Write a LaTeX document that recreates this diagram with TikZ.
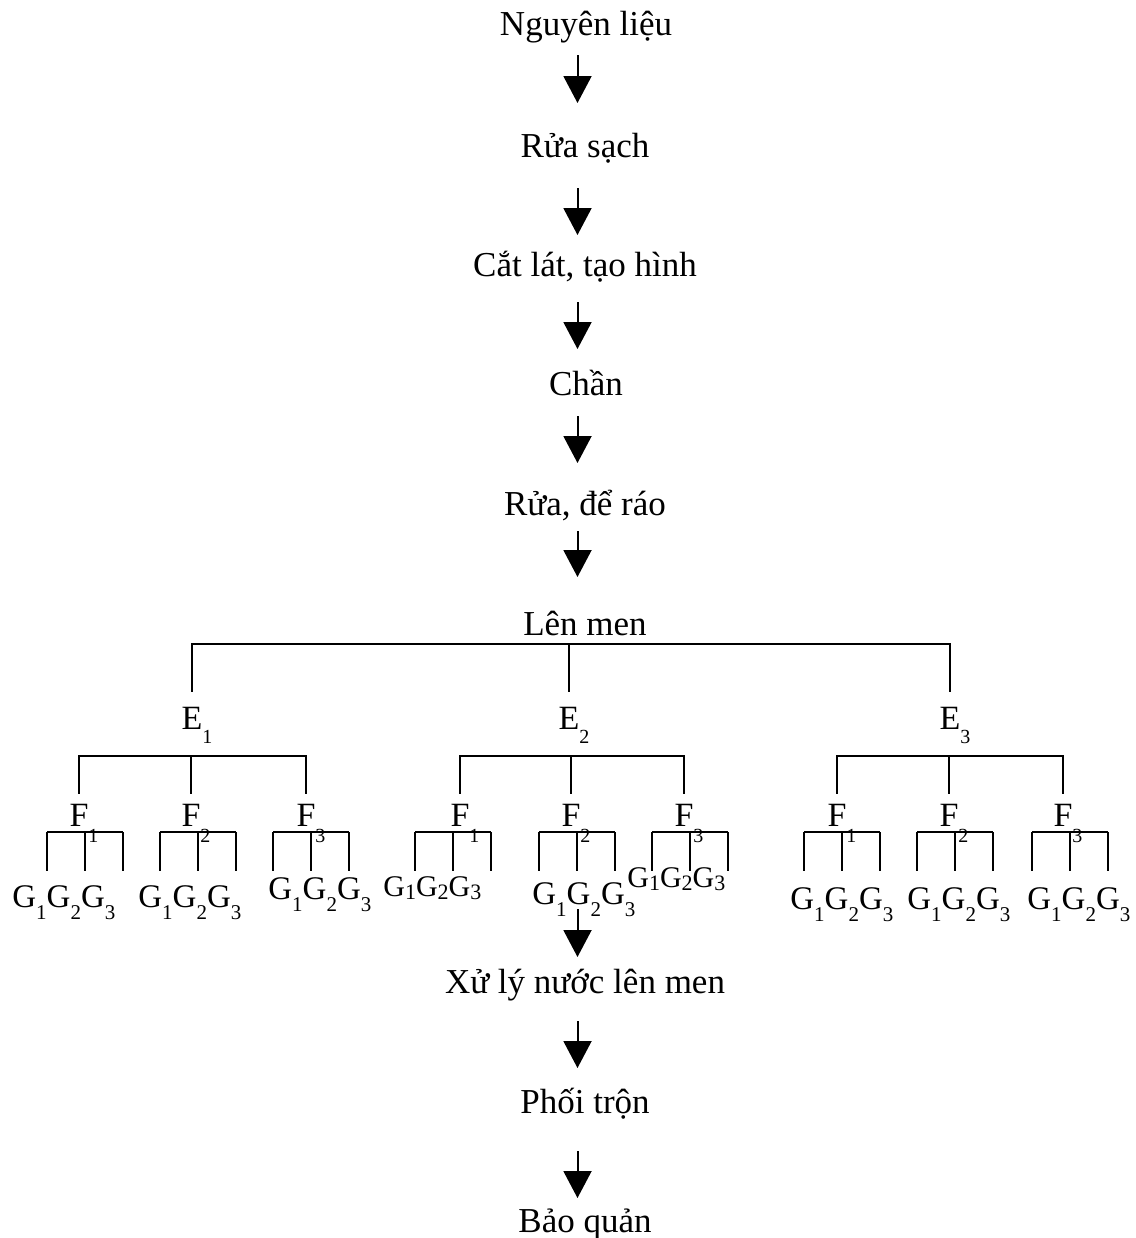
\documentclass[tikz,border=0pt]{standalone}
\usepackage{fontspec}
\setmainfont{Liberation Serif}
\usetikzlibrary{arrows.meta}

\newcommand{\esub}[1]{\rlap{\raisebox{-7pt}{\fontsize{10}{10}\selectfont #1}}}
\newcommand{\fsub}[1]{\rlap{\raisebox{-8pt}{\fontsize{10}{10}\selectfont #1}}}
\newcommand{\gsub}[1]{\raisebox{-6pt}{\fontsize{10.5}{11}\selectfont #1}}
\newcommand{\gdn}[1]{\raisebox{-1.5pt}{\fontsize{11}{12}\selectfont #1}}

\tikzset{
  stepname/.style={font=\fontsize{17.5}{21}\selectfont, inner sep=0pt, anchor=base, text depth=4.5pt},
  elbl/.style={font=\fontsize{17}{20}\selectfont, inner sep=0pt, anchor=base, text height=18.5pt, text depth=13.5pt},
  flbl/.style={font=\fontsize{17}{20}\selectfont, inner sep=0pt, anchor=base, text height=16pt, text depth=3pt},
  glbl/.style={font=\fontsize{16.5}{20}\selectfont, inner sep=0pt, anchor=base west},
  gsmall/.style={glbl, font=\fontsize{15}{18}\selectfont},
  flow/.style={-{Triangle[width=14pt,length=13.5pt]}, line width=1pt},
  br/.style={line width=1pt},
  pics/comb/.style={code={\draw[br] (-38,0) -- (38,0) (-38,0) -- (-38,39) (0,0) -- (0,39) (38,0) -- (38,39);}}
}

\begin{document}
\begin{tikzpicture}[x=0.5pt, y=-0.5pt]
\useasboundingbox (0,0) rectangle (1136,1238);
\coordinate (ax) at (577.5,0);
% steps
\node[stepname] (s1) at (586,35) {Nguyên liệu};
\node[stepname] (s2) at (585,157) {Rửa sạch};
\node[stepname] (s3) at (585,276) {Cắt lát, tạo hình};
\node[stepname] (s4) at (586,395) {Chần};
\node[stepname] (s5) at (585,515) {Rửa, để ráo};
\node[stepname] (s6) at (585,635) {Lên men};
\node[stepname] (s7) at (585,993) {Xử lý nước lên men};
\node[stepname] (s8) at (585,1113) {Phối trộn};
\node[stepname] (s9) at (585,1232) {Bảo quản};

% E level
\node[elbl] (e1) at (192,729) {E\esub{1}};
\node[elbl] (e2) at (569,729) {E\esub{2}};
\node[elbl] (e3) at (950,729) {E\esub{3}};
\draw[br] (e1.north) |- (s6.south) -| (e3.north);
\draw[br] (s6.south -| e2.north) -- (e2.north);

% F level
\node[flbl] (f11) at (79,826) {F\fsub{1}};
\node[flbl] (f12) at (191,826) {F\fsub{2}};
\node[flbl] (f13) at (306,826) {F\fsub{3}};
\node[flbl] (f21) at (460,826) {F\fsub{1}};
\node[flbl] (f22) at (571,826) {F\fsub{2}};
\node[flbl] (f23) at (684,826) {F\fsub{3}};
\node[flbl] (f31) at (837,826) {F\fsub{1}};
\node[flbl] (f32) at (949,826) {F\fsub{2}};
\node[flbl] (f33) at (1063,826) {F\fsub{3}};
\draw[br] (f11.north) |- (e1.south) -| (f13.north);
\draw[br] (e1.south -| f12.north) -- (f12.north);
\draw[br] (f21.north) |- (e2.south) -| (f23.north);
\draw[br] (e2.south -| f22.north) -- (f22.north);
\draw[br] (f31.north) |- (e3.south) -| (f33.north);
\draw[br] (e3.south -| f32.north) -- (f32.north);

% G level
\pic at ([xshift=3pt]f11.south) {comb};
\pic at ([xshift=3.5pt]f12.south) {comb};
\pic at ([xshift=2.5pt]f13.south) {comb};
\pic at ([xshift=-3.5pt]f21.south) {comb};
\pic at ([xshift=3pt]f22.south) {comb};
\pic at ([xshift=3pt]f23.south) {comb};
\pic at ([xshift=2.5pt]f31.south) {comb};
\pic at ([xshift=3pt]f32.south) {comb};
\pic at ([xshift=3.5pt]f33.south) {comb};
\node[glbl] (g11) at (12,907) {G\gsub{1}G\gsub{2}G\gsub{3}};
\node[glbl] (g12) at (138,907) {G\gsub{1}G\gsub{2}G\gsub{3}};
\node[glbl] (g13) at (268,899) {G\gsub{1}G\gsub{2}G\gsub{3}};
\node[gsmall] (g21) at (383,896) {G\gdn{1}G\gdn{2}G\gdn{3}};
\node[glbl] (g22) at (532,904) {G\gsub{1}G\gsub{2}G\gsub{3}};
\node[gsmall] (g23) at (627,887) {G\gdn{1}G\gdn{2}G\gdn{3}};
\node[glbl] (g31) at (790,909) {G\gsub{1}G\gsub{2}G\gsub{3}};
\node[glbl] (g32) at (907,909) {G\gsub{1}G\gsub{2}G\gsub{3}};
\node[glbl] (g33) at (1027,909) {G\gsub{1}G\gsub{2}G\gsub{3}};

% arrows
\draw[flow, shorten <=10pt, shorten >=27pt] (s1.base -| ax) -- (s2.base -| ax);
\draw[flow, shorten <=15.5pt, shorten >=20.5pt] (s2.base -| ax) -- (s3.base -| ax);
\draw[flow, shorten <=13pt, shorten >=23pt] (s3.base -| ax) -- (s4.base -| ax);
\draw[flow, shorten <=10.5pt, shorten >=26pt] (s4.base -| ax) -- (s5.base -| ax);
\draw[flow, shorten <=8pt, shorten >=29pt] (s5.base -| ax) -- (s6.base -| ax);
\draw[flow, shorten <=2.5pt, shorten >=18pt] (g22.base -| ax) -- (s7.base -| ax);
\draw[flow, shorten <=14pt, shorten >=22.5pt] (s7.base -| ax) -- (s8.base -| ax);
\draw[flow, shorten <=19pt, shorten >=17pt] (s8.base -| ax) -- (s9.base -| ax);
\end{tikzpicture}
\end{document}
